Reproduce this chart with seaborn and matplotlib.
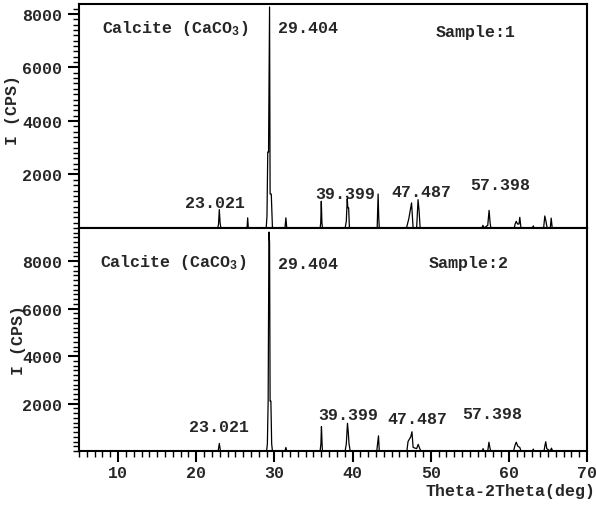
import pandas as pd
import seaborn as sns
import matplotlib.pyplot as plt
from matplotlib.ticker import MultipleLocator

# Sample 1 diffractogram (2theta in deg, intensity in CPS)
theta1 = [5.0,
          22.75, 22.85, 22.95, 23.05, 23.15,
          26.5, 26.58, 26.66,
          28.95, 29.05, 29.15, 29.25, 29.38, 29.45, 29.6, 29.75,
          31.35, 31.47, 31.58,
          35.85, 35.93, 36.0, 36.08, 36.15,
          39.05, 39.2, 39.32, 39.4, 39.5, 39.6,
          43.15, 43.27, 43.35, 43.42,
          46.9, 47.2, 47.55, 47.75,
          48.2, 48.38, 48.5, 48.65,
          56.55, 56.68, 56.8, 57.3, 57.47, 57.6, 57.7,
          60.7, 60.8, 60.95, 61.1, 61.3, 61.4, 61.55,
          63.05, 63.13, 63.2,
          64.45, 64.6, 64.75, 64.9, 65.3, 65.42, 65.55,
          70.0]
counts1 = [0,
           0, 150, 690, 200, 0,
           0, 380, 0,
           0, 450, 2840, 2840, 8260, 1270, 1270, 0,
           0, 380, 0,
           0, 200, 1000, 200, 0,
           0, 250, 1100, 750, 750, 0,
           0, 1270, 400, 0,
           0, 350, 940, 0,
           0, 1060, 700, 0,
           0, 100, 0, 100, 660, 200, 0,
           0, 150, 250, 150, 150, 400, 0,
           0, 80, 0,
           0, 450, 250, 0, 0, 370, 0,
           0]

# Sample 2 diffractogram
theta2 = [5.0,
          22.8, 22.95, 23.1,
          29.0, 29.1, 29.2, 29.3, 29.38, 29.45, 29.55, 29.65, 29.75,
          31.35, 31.47, 31.58,
          35.85, 35.95, 36.02, 36.1, 36.15,
          39.05, 39.2, 39.35, 39.45, 39.55, 39.7,
          43.1, 43.2, 43.32, 43.42,
          46.95, 47.1, 47.45, 47.6, 47.75, 48.2, 48.4, 48.6, 48.75,
          56.6, 56.7, 56.8, 57.3, 57.45, 57.6, 57.7,
          60.6, 60.8, 60.95, 61.15, 61.4, 61.55,
          63.05, 63.13, 63.2,
          64.5, 64.6, 64.72, 64.85, 65.3, 65.45, 65.6,
          70.0]
counts2 = [0,
           0, 320, 0,
           0, 300, 2100, 9220, 8800, 2100, 2100, 300, 0,
           0, 150, 0,
           0, 300, 1030, 300, 0,
           0, 300, 1170, 800, 300, 0,
           0, 300, 640, 0,
           0, 400, 600, 810, 150, 100, 280, 100, 0,
           0, 100, 0, 0, 370, 100, 0,
           0, 250, 370, 200, 150, 0,
           0, 80, 0,
           0, 200, 390, 100, 0, 120, 0,
           0]

peak_labels = ["23.021", "29.404", "39.399", "47.487", "57.398"]
sample_names = ["Sample:1", "Sample:2"]

sns.set_style("ticks")
plt.rcParams['font.family'] = ['Liberation Mono', 'DejaVu Sans Mono']
plt.rcParams['font.weight'] = 'bold'
plt.rcParams['mathtext.fontset'] = 'custom'
plt.rcParams['mathtext.rm'] = 'Liberation Mono:bold'
plt.rcParams['mathtext.it'] = 'Liberation Mono:bold'
plt.rcParams['mathtext.bf'] = 'Liberation Mono:bold'

fig = plt.figure(figsize=(5.96, 5.06), dpi=100)
ax1 = fig.add_axes([0.1326, 0.5474, 0.8523, 0.4427])
ax2 = fig.add_axes([0.1326, 0.1067, 0.8523, 0.4407])

fs = 12
for ax, th, ct, ymax in [(ax1, theta1, counts1, 8370), (ax2, theta2, counts2, 9390)]:
    df = pd.DataFrame({'theta': th, 'counts': ct})
    sns.lineplot(data=df, x='theta', y='counts', sort=False, estimator=None,
                 color='black', lw=0.9, ax=ax)
    ax.set_xlim(5, 70)
    ax.set_ylim(0, ymax)
    ax.set_xlabel('')
    ax.set_ylabel('')
    ax.set_yticks([2000, 4000, 6000, 8000])
    ax.yaxis.set_minor_locator(MultipleLocator(200))
    ax.xaxis.set_major_locator(MultipleLocator(10))
    ax.xaxis.set_minor_locator(MultipleLocator(1))
    ax.tick_params(which='major', direction='out', length=8, width=1.5,
                   labelsize=fs, pad=4, color='black')
    ax.tick_params(which='minor', direction='out', length=4, width=1, color='black')
    for sp in ax.spines.values():
        sp.set_linewidth(1.5)
        sp.set_color('black')
        sp.set_visible(True)
    for lab in ax.get_xticklabels() + ax.get_yticklabels():
        lab.set_fontweight('bold')

ax1.tick_params(axis='x', which='both', bottom=False, labelbottom=False)
ax2.tick_params(axis='x', which='major', pad=2)

# annotations, top panel
ax1.text(7.9, 7330, r'Calcite (CaCO$_3$)', fontsize=fs, fontweight='bold', va='baseline')
ax1.text(30.46, 7330, peak_labels[1], fontsize=fs, fontweight='bold', va='baseline')
ax1.text(50.6, 7190, sample_names[0], fontsize=fs, fontweight='bold', va='baseline')
ax1.text(22.45, 785, peak_labels[0], fontsize=fs, fontweight='bold', ha='center', va='baseline')
ax1.text(39.07, 1110, peak_labels[2], fontsize=fs, fontweight='bold', ha='center', va='baseline')
ax1.text(48.8, 1210, peak_labels[3], fontsize=fs, fontweight='bold', ha='center', va='baseline')
ax1.text(58.9, 1460, peak_labels[4], fontsize=fs, fontweight='bold', ha='center', va='baseline')

# annotations, bottom panel
ax2.text(7.64, 7776, r'Calcite (CaCO$_3$)', fontsize=fs, fontweight='bold', va='baseline')
ax2.text(30.46, 7690, peak_labels[1], fontsize=fs, fontweight='bold', va='baseline')
ax2.text(49.76, 7730, sample_names[1], fontsize=fs, fontweight='bold', va='baseline')
ax2.text(22.96, 855, peak_labels[0], fontsize=fs, fontweight='bold', ha='center', va='baseline')
ax2.text(39.41, 1347, peak_labels[2], fontsize=fs, fontweight='bold', ha='center', va='baseline')
ax2.text(48.32, 1179, peak_labels[3], fontsize=fs, fontweight='bold', ha='center', va='baseline')
ax2.text(57.92, 1389, peak_labels[4], fontsize=fs, fontweight='bold', ha='center', va='baseline')

fig.text(12 / 596, 1 - 110 / 506, 'I (CPS)', rotation=90, ha='center', va='center',
         fontsize=fs, fontweight='bold')
fig.text(19 / 596, 1 - 340 / 506, 'I (CPS)', rotation=90, ha='center', va='center',
         fontsize=fs, fontweight='bold')
fig.text(595 / 596, 1 - 492 / 506, 'Theta-2Theta(deg)', ha='right', va='center',
         fontsize=fs, fontweight='bold')

fig.savefig('out.png', dpi=100)
